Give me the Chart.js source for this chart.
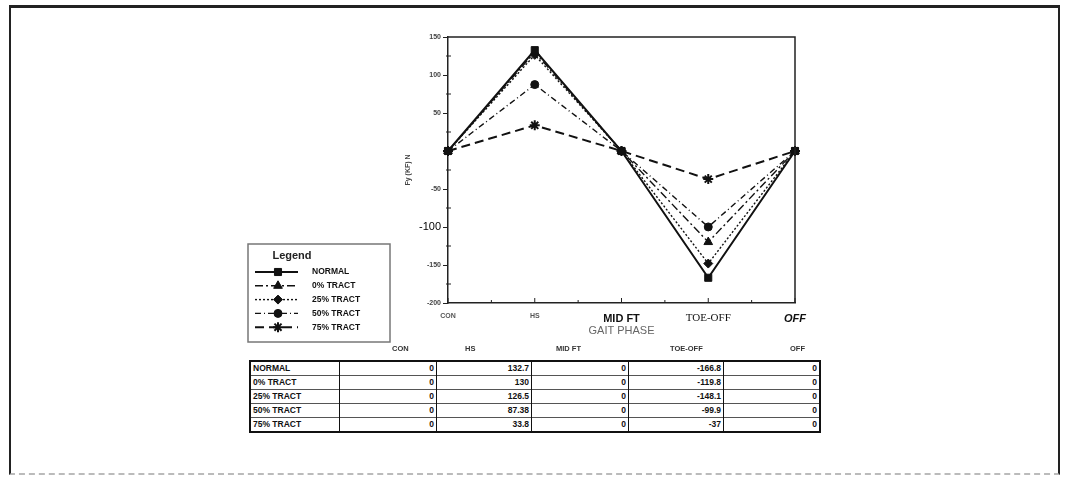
<!DOCTYPE html>
<html>
<head>
<meta charset="utf-8">
<script src="https://cdn.jsdelivr.net/npm/chart.js@4/dist/chart.umd.min.js"></script>
<style>
  html,body{margin:0;padding:0;background:#fff;width:1068px;height:479px;overflow:hidden;}
  #frame{position:absolute;left:9px;top:5px;width:1047px;height:465px;border-top:3px solid #222;border-left:2px solid #222;border-right:2px solid #222;border-bottom:2px dashed #bbb;}
  #wrap{position:absolute;left:240px;top:15px;width:590px;height:335px;}
  #tbl{position:absolute;left:249px;top:360px;border-collapse:collapse;border:2px solid #111;font-family:"Liberation Sans",Arial,sans-serif;font-weight:bold;font-size:8.5px;color:#111;}
  #tbl td{border-left:1.5px solid #111;border-top:1.5px solid #555;height:13px;padding:0 2px;text-align:right;line-height:13px;}
  #tbl td.lab{text-align:left;border-left:none;}
  .hdr{position:absolute;top:344px;font-family:"Liberation Sans",Arial,sans-serif;font-weight:bold;font-size:7.5px;color:#333;}
</style>
</head>
<body>
<div id="frame"></div>
<div id="wrap"><canvas id="c" width="590" height="335"></canvas></div>
<table id="tbl"></table>
<script>
const phases = ['CON', 'HS', 'MID FT', 'TOE-OFF', 'OFF'];
const seriesNames = ['NORMAL', '0% TRACT', '25% TRACT', '50% TRACT', '75% TRACT'];
const normal  = [0, 132.7, 0, -166.8, 0];
const tract0  = [0, 130,   0, -119.8, 0];
const tract25 = [0, 126.5, 0, -148.1, 0];
const tract50 = [0, 87.38, 0, -99.9,  0];
const tract75 = [0, 33.8,  0, -37,    0];
const yTicks = [150, 100, 50, 0, -50, -100, -150, -200];

const seriesValues = [normal, tract0, tract25, tract50, tract75];
const styles = [
  {pointStyle:'rect', radius:5, dash:[], width:2},
  {pointStyle:'triangle', radius:5, dash:[8,3,2,3], width:1.4},
  {pointStyle:'rectRot', radius:4.5, dash:[2,2], width:1.4},
  {pointStyle:'circle', radius:4, dash:[6,3,1,3], width:1.4},
  {pointStyle:'star', radius:5, dash:[9,5], width:2}
];

const datasets = seriesNames.map((n, i) => ({
  label: n,
  data: seriesValues[i],
  borderColor: '#111',
  backgroundColor: '#111',
  borderWidth: styles[i].width,
  borderDash: styles[i].dash,
  pointStyle: styles[i].pointStyle,
  pointRadius: styles[i].radius,
  pointBorderWidth: i === 4 ? 2 : 1,
  pointBackgroundColor: '#111',
  pointBorderColor: '#111',
  tension: 0
}));

// Table built from the same arrays
const tbl = document.getElementById('tbl');
const colW = [88, 97, 95, 97, 95, 96];
seriesNames.forEach((n, i) => {
  const tr = document.createElement('tr');
  const td0 = document.createElement('td'); td0.className = 'lab'; td0.textContent = n; td0.style.width = (colW[0]-4)+'px';
  tr.appendChild(td0);
  seriesValues[i].forEach((v, j) => {
    const td = document.createElement('td'); td.textContent = String(v); td.style.width = (colW[j+1]-5)+'px';
    tr.appendChild(td);
  });
  tbl.appendChild(tr);
});
const hdrX = [392, 465, 556, 670, 790];
phases.forEach((p, j) => {
  const d = document.createElement('div'); d.className = 'hdr'; d.textContent = p; d.style.left = hdrX[j] + 'px';
  document.body.appendChild(d);
});

const framePlugin = {
  id: 'frameAndLegend',
  afterDraw(chart) {
    const ctx = chart.ctx, a = chart.chartArea;
    ctx.save();
    ctx.strokeStyle = '#222'; ctx.lineWidth = 1.5; ctx.setLineDash([]);
    ctx.beginPath();
    ctx.moveTo(a.left, a.top); ctx.lineTo(a.right, a.top); ctx.lineTo(a.right, a.bottom);
    ctx.stroke();
    // minor ticks
    const ys = chart.scales.y, xs = chart.scales.x;
    ctx.lineWidth = 1;
    for (let v = ys.min; v <= ys.max; v += 25) {
      if (v % 50 === 0) continue;
      const py = ys.getPixelForValue(v);
      ctx.beginPath(); ctx.moveTo(a.left - 2, py); ctx.lineTo(a.left + 3, py); ctx.stroke();
    }
    for (let i = 0; i < phases.length; i++) {
      const px = xs.getPixelForValue(i);
      ctx.beginPath(); ctx.moveTo(px, a.bottom); ctx.lineTo(px, a.bottom - 5); ctx.stroke();
      if (i < phases.length - 1) {
        const mx = (px + xs.getPixelForValue(i + 1)) / 2;
        ctx.beginPath(); ctx.moveTo(mx, a.bottom); ctx.lineTo(mx, a.bottom - 3); ctx.stroke();
      }
    }
    // legend box
    const lx = 8, ly = 229, lw = 142, lh = 98;
    ctx.strokeStyle = '#777'; ctx.lineWidth = 1.5;
    ctx.strokeRect(lx, ly, lw, lh);
    ctx.fillStyle = '#222';
    ctx.font = 'bold 11px "Liberation Sans", Arial, sans-serif';
    ctx.textAlign = 'center'; ctx.textBaseline = 'middle';
    ctx.fillText('Legend', lx + 44, ly + 12);
    chart.data.datasets.forEach((ds, i) => {
      const yy = ly + 28 + i * 13.8;
      ctx.strokeStyle = '#111'; ctx.lineWidth = ds.borderWidth; ctx.setLineDash(ds.borderDash);
      ctx.beginPath(); ctx.moveTo(lx + 7, yy); ctx.lineTo(lx + 50, yy); ctx.stroke();
      ctx.setLineDash([]);
      ctx.fillStyle = '#111'; ctx.lineWidth = ds.pointBorderWidth;
      Chart.helpers.drawPoint(ctx, {pointStyle: ds.pointStyle, radius: ds.pointRadius, rotation: 0, borderWidth: ds.pointBorderWidth}, lx + 30, yy);
      ctx.fillStyle = '#111';
      ctx.font = 'bold 8.5px "Liberation Sans", Arial, sans-serif';
      ctx.textAlign = 'left';
      ctx.fillText(ds.label, lx + 64, yy);
    });
    ctx.restore();
  }
};

const xFonts = [
  {family:'"Liberation Sans", Arial, sans-serif', size:7, weight:'bold'},
  {family:'"Liberation Sans", Arial, sans-serif', size:7, weight:'bold'},
  {family:'"Liberation Sans", Arial, sans-serif', size:11, weight:'bold'},
  {family:'"Liberation Serif", "Times New Roman", serif', size:11, weight:'normal'},
  {family:'"Liberation Sans", Arial, sans-serif', size:11, weight:'bold', style:'italic'}
];

new Chart(document.getElementById('c'), {
  type: 'line',
  data: { labels: phases, datasets },
  options: {
    responsive: false,
    animation: false,
    layout: { padding: { left: 164, right: 35, top: 22, bottom: 12 } },
    plugins: { legend: { display: false }, tooltip: { enabled: false } },
    scales: {
      x: {
        offset: false,
        grid: { drawOnChartArea: false, drawTicks: false },
        border: { color: '#222', width: 1.5 },
        ticks: {
          padding: 9,
          color: (c) => c.index < 2 ? '#555' : '#111',
          font: (c) => xFonts[c.index] || xFonts[0],
          maxRotation: 0, autoSkip: false
        },
        title: { display: true, text: 'GAIT PHASE', color: '#666', padding: {top: -3, bottom: 0},
                 font: { family: '"Liberation Sans", Arial, sans-serif', size: 11 } },
        afterFit(s) { s.height = 35; }
      },
      y: {
        min: yTicks[yTicks.length - 1], max: yTicks[0],
        afterBuildTicks(s) { s.ticks = yTicks.map(v => ({ value: v })); },
        grid: { drawOnChartArea: false, tickLength: 5, color: '#222' },
        border: { color: '#222', width: 1.5 },
        ticks: {
          padding: 2,
          color: (c) => c.tick && c.tick.value === -100 ? '#000' : '#444',
          font: (c) => (c.tick && c.tick.value === -100)
            ? { family: '"Liberation Sans", Arial, sans-serif', size: 11 }
            : { family: '"Liberation Sans", Arial, sans-serif', size: 7, weight: 'bold' },
          callback: (v) => v === 0 ? '' : String(v)
        },
        title: { display: true, text: 'Fy (KF) N', color: '#444', padding: 0,
                 font: { family: '"Liberation Sans", Arial, sans-serif', size: 7, weight: 'bold' } },
        afterFit(s) { s.width = 44; }
      }
    }
  },
  plugins: [framePlugin]
});
</script>
</body>
</html>
